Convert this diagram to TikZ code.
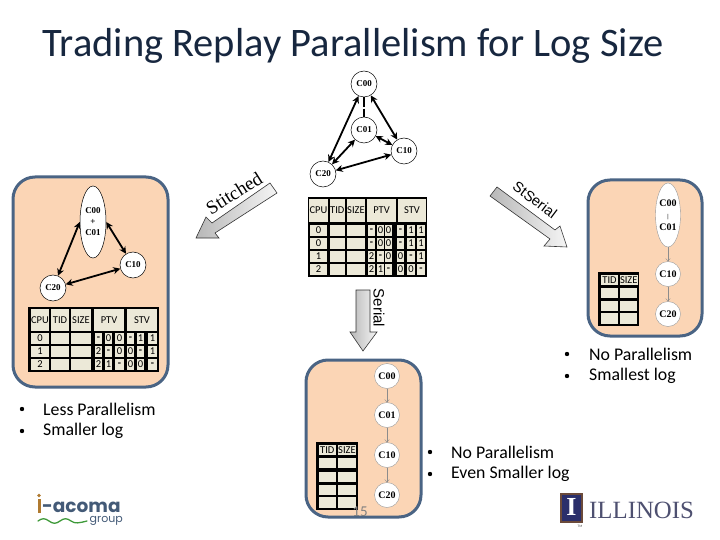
\documentclass[tikz,border=0pt]{standalone}
\usepackage{fontspec}
\setmainfont{Carlito}
\newfontfamily\serifnode{Liberation Serif}
\newfontfamily\sansfig{Liberation Sans}
\newfontfamily\logofont{Poppins}
\usetikzlibrary{shapes.geometric,arrows.meta}
\definecolor{peach}{HTML}{FBD5B5}
\definecolor{panelline}{HTML}{4A6484}
\definecolor{cellfill}{HTML}{ECE9D8}
\definecolor{titlecol}{HTML}{17273F}
\definecolor{illtext}{HTML}{4E5070}
\definecolor{illbox}{HTML}{2B2F6B}
\definecolor{illedge}{HTML}{6B4A3A}
\definecolor{acomabrown}{HTML}{B07A30}
\definecolor{acomagreen}{HTML}{3F9A3A}
\newcounter{cellno}
\newcommand{\hy}{\textbf{-}}
\newcommand{\tblrow}[3]{%
  \foreach \cx/\cw/\ct in {#3}{%
    \stepcounter{cellno}%
    \node[tcell,minimum width=\cw pt,minimum height=#2 pt] (t\thecellno) at (\cx,#1) {\ct};%
  }%
}
\tikzset{
  panel/.style={fill=peach,draw=panelline,line width=3pt,rounded corners=22pt},
  tcell/.style={anchor=north west,fill=cellfill,inner sep=0pt,outer sep=0pt,font=\fontsize{10.5}{11}\selectfont,text=black},
  gnode/.style={circle,draw=black,line width=.5pt,fill=white,minimum size=26pt,inner sep=0pt,font=\serifnode\bfseries\fontsize{9}{10}\selectfont},
  gell/.style={ellipse,draw=black,line width=.5pt,fill=white,inner sep=0pt,align=center,font=\serifnode\bfseries\fontsize{9}{11}\selectfont},
  snode/.style={circle,draw=black!40,line width=.4pt,fill=white,minimum size=25pt,inner sep=0pt,font=\serifnode\bfseries\fontsize{10}{11}\selectfont},
  dep/.style={{Stealth[length=7pt,width=7pt]}-{Stealth[length=7pt,width=7pt]},line width=1.8pt,black},
  ser/.style={-{To[length=3pt,width=5pt]},line width=.4pt,draw=black!45},
  blockarrow/.style={draw=black!80,line width=.6pt,shading angle=#1,left color=black!28,right color=black!4},
  txtbullet/.style={anchor=west,inner sep=0pt,font=\fontsize{17.8}{20}\selectfont,text=black},
  bdot/.style={circle,fill=black,inner sep=0pt,minimum size=4.4pt}
}
\begin{document}
\begin{tikzpicture}[x=1pt,y=-1pt]
\useasboundingbox (0,0) rectangle (720,540);
\node[anchor=center,inner sep=0pt,text=titlecol,font=\fontsize{40.5}{44}\selectfont] (title) at (353,46) {Trading Replay Parallelism for Log Size};

% top graph
\node[gnode] (a00) at (364,84) {C00};
\node[gnode] (a01) at (364,130) {C01};
\node[gnode] (a10) at (404,151) {C10};
\node[gnode] (a20) at (323,174) {C20};
\draw[line width=1.6pt,dash pattern=on 10pt off 1.5pt on 10pt] (a00) -- (a01);
\draw[dep] (a00) -- (a10);
\draw[dep] (a00) -- (a20);
\draw[dep] (a01) -- (a10);
\draw[dep] (a01) -- (a20);
\draw[dep] (a10) -- (a20);
% top table
\fill[black] (308,197) rectangle (427,277);
\tblrow{199}{23}{309/19/CPU,329.5/15.5/TID,347/18/SIZE,367/29/PTV,398/28/STV}
\tblrow{225}{10.5}{310/17/0,330/15/,347/18/,368/7/\hy,377/7/0,385/7/0,397/7/\hy,407/8/1,417/8/1}
\tblrow{238}{10.5}{310/17/0,330/15/,347/18/,368/7/\hy,377/7/0,385/7/0,397/7/\hy,407/8/1,417/8/1}
\tblrow{251}{10.5}{310/17/1,330/15/,347/18/,368/7/2,377/7/\hy,385/7/0,397/7/0,407/8/\hy,417/8/1}
\tblrow{264}{10.5}{310/17/2,330/15/,347/18/,368/7/2,377/7/1,385/7/\hy,397/7/0,407/8/0,417/8/\hy}

% left panel
\draw[panel] (13,177) rectangle (168,387);
\node[gell,minimum width=26pt,minimum height=72pt] (b00) at (93,222) {C00\\+\\C01};
\node[gnode] (b10) at (133,265) {C10};
\node[gnode] (b20) at (53,288) {C20};
\draw[dep] (b00.east) -- (b10);
\draw[dep] (b00.west) -- (b20);
\draw[dep] (b10) -- (b20);
\fill[black] (28,307) rectangle (159,372);
\tblrow{309}{22}{31/18/CPU,51/18/TID,71/20/SIZE,94/30/PTV,127/30/STV}
\tblrow{333}{11}{31/18/0,51/18/,71/20/,95/7/\hy,105/7/0,115/9/0,127/7/\hy,137/7/1,148/9/1}
\tblrow{346}{11}{31/18/1,51/18/,71/20/,95/7/2,105/7/\hy,115/9/0,127/7/0,137/7/\hy,148/9/1}
\tblrow{359}{11}{31/18/2,51/18/,71/20/,95/7/2,105/7/1,115/9/\hy,127/7/0,137/7/0,148/9/\hy}

% right panel
\draw[panel] (588,180) rectangle (702,336);
\node[gell,draw=black!40,line width=.4pt,minimum width=25pt,minimum height=64pt,font=\serifnode\bfseries\fontsize{10}{11}\selectfont] (c00) at (668,215) {C00\\[1pt]{\fontsize{6}{6}\selectfont |}\\[1pt]C01};
\node[snode] (c10) at (668,274) {C10};
\node[snode] (c20) at (668,314) {C20};
\draw[ser] (c00) -- (c10);
\draw[ser] (c10) -- (c20);
\fill[black] (598,272) rectangle (639,326);
\tblrow{275}{10}{601/17/TID,620/17/SIZE}
\tblrow{288}{10}{601/17/,620/17/}
\tblrow{300.5}{10.5}{601/17/,620/17/}
\tblrow{313}{11}{601/17/,620/17/}

% bottom panel
\draw[panel] (306,360) rectangle (421,517);
\node[snode] (d00) at (387,376) {C00};
\node[snode] (d01) at (387,415) {C01};
\node[snode] (d10) at (387,455) {C10};
\node[snode] (d20) at (387,495) {C20};
\draw[ser] (d00) -- (d01);
\draw[ser] (d01) -- (d10);
\draw[ser] (d10) -- (d20);
\fill[black] (316,442) rectangle (358,510);
\tblrow{445}{10}{319/16.5/TID,338/18/SIZE}
\tblrow{458}{10}{319/16.5/,338/18/}
\tblrow{471.5}{10}{319/16.5/,338/18/}
\tblrow{484.5}{10}{319/16.5/,338/18/}
\tblrow{497}{11}{319/16.5/,338/18/}
\node[inner sep=0pt,text=black!50,font=\fontsize{15}{15}\selectfont] (pnum) at (360,512) {15};

% block arrows
\path[blockarrow=-30] (270,183) -- (277,193) -- (215,233) -- (219,238) -- (196,238) -- (206,217) -- (212,223) -- cycle;
\node[rotate=32,inner sep=0pt,font=\serifnode\fontsize{19}{19}\selectfont,text=black] (stitched) at (234,193) {Stitched};
\path[blockarrow=35] (497,187) -- (555,230) -- (560,226) -- (567,247) -- (544,246) -- (550,239) -- (490,196) -- cycle;
\node[rotate=-37,inner sep=0pt,font=\sansfig\fontsize{14.5}{14.5}\selectfont,text=black] (stserial) at (535,200) {StSerial};
\path[blockarrow=0] (356,290) -- (370,290) -- (370,332) -- (377,332) -- (363,351) -- (350,332) -- (356,332) -- cycle;
\node[rotate=-90,inner sep=0pt,font=\sansfig\fontsize{15}{15}\selectfont,text=black] (serial) at (379,308) {Serial};

% bullets
\node[bdot] (bu1) at (567,354) {}; \node[txtbullet] (tx1) at (589,354) {No Parallelism};
\node[bdot] (bu2) at (567,376) {}; \node[txtbullet] (tx2) at (589,376) {Smallest log};
\node[bdot] (bu3) at (22,409) {}; \node[txtbullet] (tx3) at (43,409) {Less Parallelism};
\node[bdot] (bu4) at (22,431) {}; \node[txtbullet] (tx4) at (43,431) {Smaller log};
\node[bdot] (bu5) at (430,452) {}; \node[txtbullet] (tx5) at (451,452) {No Parallelism};
\node[bdot] (bu6) at (430,474) {}; \node[txtbullet] (tx6) at (451,474) {Even Smaller log};

% i-acoma logo
\fill[acomabrown] (37.5,499) rectangle (40.5,513);
\fill[acomabrown] (39,495.5) circle (1.8);
\node[anchor=west,inner sep=0pt,text=panelline!90!black,font=\logofont\bfseries\fontsize{18.5}{20}\selectfont] (acoma) at (42,507) {-acoma};
\node[anchor=east,inner sep=0pt,text=panelline!90!black,font=\logofont\fontsize{11}{11}\selectfont] (group) at (123,521) {group};
\draw[acomagreen,line width=1.3pt,line cap=round] (38,521) .. controls (42,518) and (45,518) .. (49,521) .. controls (53,524) and (56,524) .. (60,521) .. controls (64,518) and (67,518) .. (71,521) .. controls (75,524) and (79,523) .. (87,521);

% Illinois logo
\fill[illedge] (560,493) rectangle (583,523);
\fill[illbox] (562,495) rectangle (581,521);
\node[inner sep=0pt,text=white,font=\serifnode\bfseries\fontsize{26}{26}\selectfont] (illI) at (571.5,507) {I};
\node[anchor=west,inner sep=0pt,text=illtext,font=\serifnode\fontsize{24.8}{25}\selectfont] (illinois) at (589,510) {ILLINOIS};
\node[inner sep=0pt,text=black!70,font=\fontsize{3.5}{4}\selectfont] (tm) at (580,526.5) {TM};
\end{tikzpicture}
\end{document}
